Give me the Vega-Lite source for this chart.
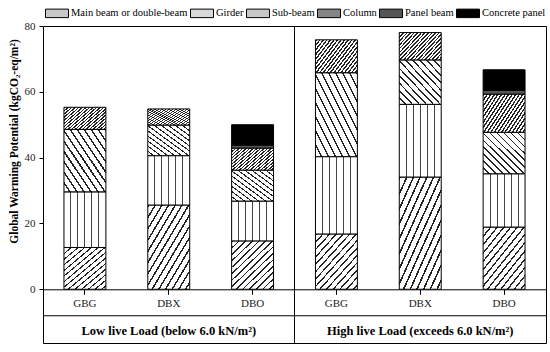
{
  "$schema": "https://vega.github.io/schema/vega-lite/v6.json",
  "width": 503,
  "height": 317,
  "autosize": {"type": "none"},
  "padding": {"left": 43, "top": 26, "right": 4, "bottom": 9},
  "config": {
    "font": "Liberation Serif",
    "view": {"stroke": "black", "strokeWidth": 1},
    "axis": {"labelColor": "#222", "titleColor": "black", "tickColor": "black", "domainColor": "black", "labelFontSize": 11, "grid": false}
  },
  "datasets": {
    "gwp": [
      {"bar": "Low GBG", "part": "Main beam or double-beam", "gwp": 12.7},
      {"bar": "Low GBG", "part": "Girder", "gwp": 16.9},
      {"bar": "Low GBG", "part": "Sub-beam", "gwp": 19.0},
      {"bar": "Low GBG", "part": "Column", "gwp": 6.7},
      {"bar": "Low DBX", "part": "Main beam or double-beam", "gwp": 25.6},
      {"bar": "Low DBX", "part": "Girder", "gwp": 15.0},
      {"bar": "Low DBX", "part": "Sub-beam", "gwp": 9.3},
      {"bar": "Low DBX", "part": "Column", "gwp": 4.9},
      {"bar": "Low DBO", "part": "Main beam or double-beam", "gwp": 14.7},
      {"bar": "Low DBO", "part": "Girder", "gwp": 12.1},
      {"bar": "Low DBO", "part": "Sub-beam", "gwp": 9.4},
      {"bar": "Low DBO", "part": "Column", "gwp": 6.7},
      {"bar": "Low DBO", "part": "Panel beam", "gwp": 0.9},
      {"bar": "Low DBO", "part": "Concrete panel", "gwp": 6.2},
      {"bar": "High GBG", "part": "Main beam or double-beam", "gwp": 16.8},
      {"bar": "High GBG", "part": "Girder", "gwp": 23.5},
      {"bar": "High GBG", "part": "Sub-beam", "gwp": 25.5},
      {"bar": "High GBG", "part": "Column", "gwp": 10.0},
      {"bar": "High DBX", "part": "Main beam or double-beam", "gwp": 34.1},
      {"bar": "High DBX", "part": "Girder", "gwp": 22.1},
      {"bar": "High DBX", "part": "Sub-beam", "gwp": 13.5},
      {"bar": "High DBX", "part": "Column", "gwp": 8.3},
      {"bar": "High DBO", "part": "Main beam or double-beam", "gwp": 18.9},
      {"bar": "High DBO", "part": "Girder", "gwp": 16.2},
      {"bar": "High DBO", "part": "Sub-beam", "gwp": 12.6},
      {"bar": "High DBO", "part": "Column", "gwp": 11.6},
      {"bar": "High DBO", "part": "Panel beam", "gwp": 1.1},
      {"bar": "High DBO", "part": "Concrete panel", "gwp": 6.3}
    ],
    "groups": [
      {"bar": "Low DBX", "label": "Low live Load (below 6.0 kN/m²)"},
      {"bar": "High DBX", "label": "High live Load (exceeds 6.0 kN/m²)"}
    ],
    "divider": [{"bar": "Low DBO"}],
    "sep": [{"y": -8.05}]
  },
  "layer": [
    {
      "data": {"name": "gwp"},
      "transform": [
        {"calculate": "indexof(['Main beam or double-beam','Girder','Sub-beam','Column','Panel beam','Concrete panel'], datum.part)", "as": "rank"}
      ],
      "mark": {"type": "bar", "stroke": "black", "strokeWidth": 1},
      "encoding": {
        "x": {
          "field": "bar", "type": "nominal",
          "scale": {"domain": ["Low GBG", "Low DBX", "Low DBO", "High GBG", "High DBX", "High DBO"], "paddingInner": 0.5, "paddingOuter": 0.25},
          "axis": {"title": null, "orient": "bottom", "offset": -53.7, "labelAngle": 0, "labelExpr": "split(datum.value, ' ')[1]", "tickSize": 5, "labelPadding": 3, "domainWidth": 1}
        },
        "y": {
          "field": "gwp", "type": "quantitative", "stack": "zero",
          "scale": {"domain": [-16.33, 80], "nice": false, "zero": false},
          "axis": {"values": [0, 20, 40, 60, 80], "domain": false, "tickSize": 4, "labelPadding": 4, "title": "Global Warming Potential (kgCO₂-eq/m²)", "titleFontSize": 11.5, "titleFontWeight": "bold", "titlePadding": 5, "titleY": 115}
        },
        "order": {"field": "rank", "type": "quantitative"},
        "fill": {
          "field": "part", "type": "nominal",
          "scale": {"domain": ["Main beam or double-beam", "Girder", "Sub-beam", "Column", "Panel beam", "Concrete panel"], "range": ["#c8c8c8", "#d8d8d8", "#c8c8c8", "#858585", "#555555", "#000000"]},
          "legend": {
            "title": null, "orient": "none", "legendX": 2, "legendY": -25, "direction": "horizontal", "columns": 6,
            "symbolType": "M-1,-0.37H1V0.37H-1Z", "symbolSize": 529, "symbolStrokeColor": "black", "symbolStrokeWidth": 1, "symbolOpacity": 1,
            "labelFontSize": 10.5, "labelColor": "black", "labelOffset": 2, "columnPadding": 0, "padding": 0, "labelLimit": 300
          },
          "condition": [
            {"test": "datum.part === 'Main beam or double-beam'", "value": {"gradient": "linear", "x1": 0, "y1": 0, "x2": 0.92, "y2": 1.1, "stops": [{"offset":0,"color":"#222"},{"offset":0.0179,"color":"#222"},{"offset":0.0179,"color":"#fff"},{"offset":0.0714,"color":"#fff"},{"offset":0.0714,"color":"#222"},{"offset":0.0893,"color":"#222"},{"offset":0.0893,"color":"#fff"},{"offset":0.1429,"color":"#fff"},{"offset":0.1429,"color":"#222"},{"offset":0.1607,"color":"#222"},{"offset":0.1607,"color":"#fff"},{"offset":0.2143,"color":"#fff"},{"offset":0.2143,"color":"#222"},{"offset":0.2321,"color":"#222"},{"offset":0.2321,"color":"#fff"},{"offset":0.2857,"color":"#fff"},{"offset":0.2857,"color":"#222"},{"offset":0.3036,"color":"#222"},{"offset":0.3036,"color":"#fff"},{"offset":0.3571,"color":"#fff"},{"offset":0.3571,"color":"#222"},{"offset":0.375,"color":"#222"},{"offset":0.375,"color":"#fff"},{"offset":0.4286,"color":"#fff"},{"offset":0.4286,"color":"#222"},{"offset":0.4464,"color":"#222"},{"offset":0.4464,"color":"#fff"},{"offset":0.5,"color":"#fff"},{"offset":0.5,"color":"#222"},{"offset":0.5179,"color":"#222"},{"offset":0.5179,"color":"#fff"},{"offset":0.5714,"color":"#fff"},{"offset":0.5714,"color":"#222"},{"offset":0.5893,"color":"#222"},{"offset":0.5893,"color":"#fff"},{"offset":0.6429,"color":"#fff"},{"offset":0.6429,"color":"#222"},{"offset":0.6607,"color":"#222"},{"offset":0.6607,"color":"#fff"},{"offset":0.7143,"color":"#fff"},{"offset":0.7143,"color":"#222"},{"offset":0.7321,"color":"#222"},{"offset":0.7321,"color":"#fff"},{"offset":0.7857,"color":"#fff"},{"offset":0.7857,"color":"#222"},{"offset":0.8036,"color":"#222"},{"offset":0.8036,"color":"#fff"},{"offset":0.8571,"color":"#fff"},{"offset":0.8571,"color":"#222"},{"offset":0.875,"color":"#222"},{"offset":0.875,"color":"#fff"},{"offset":0.9286,"color":"#fff"},{"offset":0.9286,"color":"#222"},{"offset":0.9464,"color":"#222"},{"offset":0.9464,"color":"#fff"},{"offset":1,"color":"#fff"}]}},
            {"test": "datum.part === 'Girder'", "value": {"gradient": "linear", "x1": 0, "y1": 0, "x2": 1, "y2": 0, "stops": [{"offset":0,"color":"#fff"},{"offset":0.155,"color":"#fff"},{"offset":0.155,"color":"#444"},{"offset":0.179,"color":"#444"},{"offset":0.179,"color":"#fff"},{"offset":0.321,"color":"#fff"},{"offset":0.321,"color":"#444"},{"offset":0.345,"color":"#444"},{"offset":0.345,"color":"#fff"},{"offset":0.488,"color":"#fff"},{"offset":0.488,"color":"#444"},{"offset":0.512,"color":"#444"},{"offset":0.512,"color":"#fff"},{"offset":0.655,"color":"#fff"},{"offset":0.655,"color":"#444"},{"offset":0.679,"color":"#444"},{"offset":0.679,"color":"#fff"},{"offset":0.821,"color":"#fff"},{"offset":0.821,"color":"#444"},{"offset":0.845,"color":"#444"},{"offset":0.845,"color":"#fff"},{"offset":1,"color":"#fff"}]}},
            {"test": "datum.part === 'Sub-beam'", "value": {"gradient": "linear", "x1": 1, "y1": 0, "x2": 0, "y2": 1, "stops": [{"offset":0,"color":"#222"},{"offset":0.0208,"color":"#222"},{"offset":0.0208,"color":"#fff"},{"offset":0.0833,"color":"#fff"},{"offset":0.0833,"color":"#222"},{"offset":0.1042,"color":"#222"},{"offset":0.1042,"color":"#fff"},{"offset":0.1667,"color":"#fff"},{"offset":0.1667,"color":"#222"},{"offset":0.1875,"color":"#222"},{"offset":0.1875,"color":"#fff"},{"offset":0.25,"color":"#fff"},{"offset":0.25,"color":"#222"},{"offset":0.2708,"color":"#222"},{"offset":0.2708,"color":"#fff"},{"offset":0.3333,"color":"#fff"},{"offset":0.3333,"color":"#222"},{"offset":0.3542,"color":"#222"},{"offset":0.3542,"color":"#fff"},{"offset":0.4167,"color":"#fff"},{"offset":0.4167,"color":"#222"},{"offset":0.4375,"color":"#222"},{"offset":0.4375,"color":"#fff"},{"offset":0.5,"color":"#fff"},{"offset":0.5,"color":"#222"},{"offset":0.5208,"color":"#222"},{"offset":0.5208,"color":"#fff"},{"offset":0.5833,"color":"#fff"},{"offset":0.5833,"color":"#222"},{"offset":0.6042,"color":"#222"},{"offset":0.6042,"color":"#fff"},{"offset":0.6667,"color":"#fff"},{"offset":0.6667,"color":"#222"},{"offset":0.6875,"color":"#222"},{"offset":0.6875,"color":"#fff"},{"offset":0.75,"color":"#fff"},{"offset":0.75,"color":"#222"},{"offset":0.7708,"color":"#222"},{"offset":0.7708,"color":"#fff"},{"offset":0.8333,"color":"#fff"},{"offset":0.8333,"color":"#222"},{"offset":0.8542,"color":"#222"},{"offset":0.8542,"color":"#fff"},{"offset":0.9167,"color":"#fff"},{"offset":0.9167,"color":"#222"},{"offset":0.9375,"color":"#222"},{"offset":0.9375,"color":"#fff"},{"offset":1,"color":"#fff"}]}},
            {"test": "datum.part === 'Column'", "value": {"gradient": "linear", "x1": 0, "y1": 0, "x2": 1.25, "y2": 0.75, "stops": [{"offset":0,"color":"#222"},{"offset":0.0225,"color":"#222"},{"offset":0.0225,"color":"#fff"},{"offset":0.05,"color":"#fff"},{"offset":0.05,"color":"#222"},{"offset":0.0725,"color":"#222"},{"offset":0.0725,"color":"#fff"},{"offset":0.1,"color":"#fff"},{"offset":0.1,"color":"#222"},{"offset":0.1225,"color":"#222"},{"offset":0.1225,"color":"#fff"},{"offset":0.15,"color":"#fff"},{"offset":0.15,"color":"#222"},{"offset":0.1725,"color":"#222"},{"offset":0.1725,"color":"#fff"},{"offset":0.2,"color":"#fff"},{"offset":0.2,"color":"#222"},{"offset":0.2225,"color":"#222"},{"offset":0.2225,"color":"#fff"},{"offset":0.25,"color":"#fff"},{"offset":0.25,"color":"#222"},{"offset":0.2725,"color":"#222"},{"offset":0.2725,"color":"#fff"},{"offset":0.3,"color":"#fff"},{"offset":0.3,"color":"#222"},{"offset":0.3225,"color":"#222"},{"offset":0.3225,"color":"#fff"},{"offset":0.35,"color":"#fff"},{"offset":0.35,"color":"#222"},{"offset":0.3725,"color":"#222"},{"offset":0.3725,"color":"#fff"},{"offset":0.4,"color":"#fff"},{"offset":0.4,"color":"#222"},{"offset":0.4225,"color":"#222"},{"offset":0.4225,"color":"#fff"},{"offset":0.45,"color":"#fff"},{"offset":0.45,"color":"#222"},{"offset":0.4725,"color":"#222"},{"offset":0.4725,"color":"#fff"},{"offset":0.5,"color":"#fff"},{"offset":0.5,"color":"#222"},{"offset":0.5225,"color":"#222"},{"offset":0.5225,"color":"#fff"},{"offset":0.55,"color":"#fff"},{"offset":0.55,"color":"#222"},{"offset":0.5725,"color":"#222"},{"offset":0.5725,"color":"#fff"},{"offset":0.6,"color":"#fff"},{"offset":0.6,"color":"#222"},{"offset":0.6225,"color":"#222"},{"offset":0.6225,"color":"#fff"},{"offset":0.65,"color":"#fff"},{"offset":0.65,"color":"#222"},{"offset":0.6725,"color":"#222"},{"offset":0.6725,"color":"#fff"},{"offset":0.7,"color":"#fff"},{"offset":0.7,"color":"#222"},{"offset":0.7225,"color":"#222"},{"offset":0.7225,"color":"#fff"},{"offset":0.75,"color":"#fff"},{"offset":0.75,"color":"#222"},{"offset":0.7725,"color":"#222"},{"offset":0.7725,"color":"#fff"},{"offset":0.8,"color":"#fff"},{"offset":0.8,"color":"#222"},{"offset":0.8225,"color":"#222"},{"offset":0.8225,"color":"#fff"},{"offset":0.85,"color":"#fff"},{"offset":0.85,"color":"#222"},{"offset":0.8725,"color":"#222"},{"offset":0.8725,"color":"#fff"},{"offset":0.9,"color":"#fff"},{"offset":0.9,"color":"#222"},{"offset":0.9225,"color":"#222"},{"offset":0.9225,"color":"#fff"},{"offset":0.95,"color":"#fff"},{"offset":0.95,"color":"#222"},{"offset":0.9725,"color":"#222"},{"offset":0.9725,"color":"#fff"},{"offset":1,"color":"#fff"}]}}
          ]
        }
      }
    },
    {
      "data": {"name": "sep"},
      "mark": {"type": "rule", "color": "black", "strokeWidth": 1},
      "encoding": {"y": {"field": "y", "type": "quantitative"}}
    },
    {
      "data": {"name": "divider"},
      "mark": {"type": "rule", "color": "black", "strokeWidth": 1},
      "encoding": {"x": {"field": "bar", "type": "nominal", "bandPosition": 1.5}}
    },
    {
      "data": {"name": "groups"},
      "mark": {"type": "text", "fontWeight": "bold", "fontSize": 12.5, "color": "black", "baseline": "middle"},
      "encoding": {
        "x": {"field": "bar", "type": "nominal"},
        "y": {"datum": -12.6, "type": "quantitative"},
        "text": {"field": "label"}
      }
    }
  ]
}
